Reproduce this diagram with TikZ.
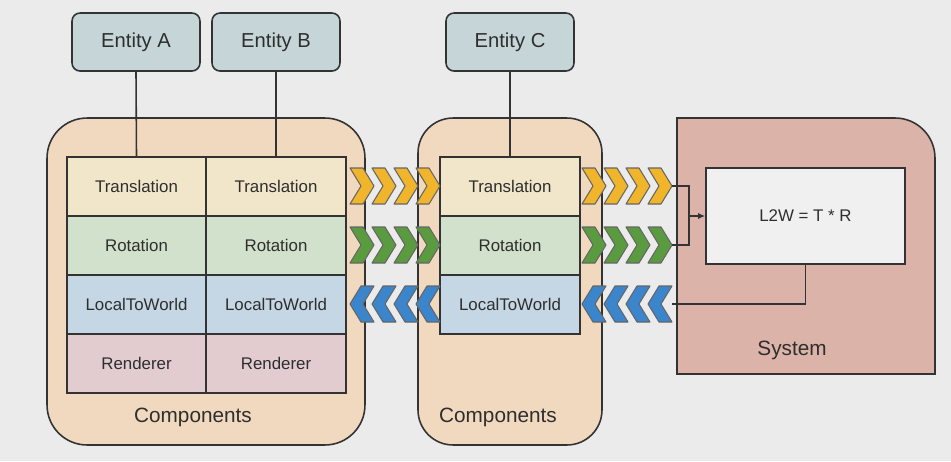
\documentclass[tikz,border=0pt]{standalone}
\usepackage{fontspec}
\setmainfont{Liberation Sans}
\usepackage{xcolor}
\usepackage{tikz}
\usetikzlibrary{arrows.meta}

\definecolor{bggray}{HTML}{EBEBEB}
\definecolor{edgegray}{HTML}{333333}
\definecolor{txtgray}{HTML}{2E2E2E}
\definecolor{entityfill}{HTML}{C6D6D8}
\definecolor{groupfill}{HTML}{F1D9C0}
\definecolor{transfill}{HTML}{F1E6C9}
\definecolor{rotfill}{HTML}{D2E1CC}
\definecolor{ltwfill}{HTML}{C5D7E5}
\definecolor{rendfill}{HTML}{E2CCCF}
\definecolor{sysfill}{HTML}{DCB3A9}
\definecolor{innerfill}{HTML}{F0F0F0}
\definecolor{chevyellow}{HTML}{F0B52A}
\definecolor{chevgreen}{HTML}{5B9B40}
\definecolor{chevblue}{HTML}{3A85CB}

\tikzset{
	>=latex,
	every node/.append style={text=txtgray},
	entity/.style = {
			draw=edgegray,
			fill=entityfill,
			line width=0.9pt,
			rounded corners=0.16cm,
			minimum width=2.56cm,
			minimum height=1.16cm,
			font=\fontsize{11.5}{13}\selectfont,
		},
	group/.style = {
			draw=edgegray,
			fill=groupfill,
			line width=0.9pt,
			minimum height=6.54cm,
		},
	cell/.style = {
			draw=edgegray,
			line width=0.9pt,
			minimum width=2.79cm,
			minimum height=1.18cm,
			inner sep=0pt,
			font=\fontsize{9.6}{11}\selectfont,
		},
	chevron/.style = {
			draw=edgegray!75,
			line width=0.6pt,
			line join=round,
		},
	link/.style = {
			draw=edgegray,
			line width=0.9pt,
		},
	caption/.style = {
			font=\fontsize{11.8}{13}\selectfont,
		},
}

\begin{document}
\begin{tikzpicture}[x=0.02cm,y=-0.02cm]
	\fill[bggray] (0,0) rectangle (951,461);
	\useasboundingbox (0,0) rectangle (951,461);

	% Component groups
	\node[group, minimum width=6.36cm, rounded corners=0.8cm] (grpAB) at (206,281.5) {};
	\node[group, minimum width=3.68cm, rounded corners=0.7cm] (grpC) at (510,281.5) {};

	% System
	\draw[draw=edgegray, fill=sysfill, line width=0.9pt]
		(677,374) -- (677,118) -- (895,118)
		arc[start angle=-90, end angle=0, radius=40] -- (935,374) -- cycle;
	\node[draw=edgegray, fill=innerfill, line width=0.9pt, minimum width=3.98cm, minimum height=1.92cm,
		font=\fontsize{9.6}{11}\selectfont] (l2w) at (805.5,216) {L2W = T * R};
	\node[caption] (sysLabel) at (792,350) {System};

	% Entities
	\node[entity] (entA) at (136,42) {Entity A};
	\node[entity] (entB) at (276,42) {Entity B};
	\node[entity] (entC) at (510,42) {Entity C};

	% Component tables
	\node[cell, fill=transfill] (transA) at (136.5,186.5) {Translation};
	\node[cell, fill=rotfill]   (rotA)   at (136.5,245.5) {Rotation};
	\node[cell, fill=ltwfill]   (ltwA)   at (136.5,304.5) {LocalToWorld};
	\node[cell, fill=rendfill]  (rendA)  at (136.5,363.5) {Renderer};

	\node[cell, fill=transfill] (transB) at (276,186.5) {Translation};
	\node[cell, fill=rotfill]   (rotB)   at (276,245.5) {Rotation};
	\node[cell, fill=ltwfill]   (ltwB)   at (276,304.5) {LocalToWorld};
	\node[cell, fill=rendfill]  (rendB)  at (276,363.5) {Renderer};

	\node[cell, fill=transfill] (transC) at (510,186.5) {Translation};
	\node[cell, fill=rotfill]   (rotC)   at (510,245.5) {Rotation};
	\node[cell, fill=ltwfill]   (ltwC)   at (510,304.5) {LocalToWorld};

	\node[caption] (compAB) at (193,417) {Components};
	\node[caption] (compC)  at (498,417) {Components};

	% Entity links
	\draw[link] (entA.south) -- (transA.north);
	\draw[link] (entB.south) -- (transB.north);
	\draw[link] (entC.south) -- (transC.north);

	% Data flow chevrons
	\foreach \s in {350,582}
		{   \foreach \i in {0,...,3}
				{   \draw[chevron, fill=chevyellow, shift={(\s+22*\i,186)}]
						(0,-18) -- (13,-18) -- (24,0) -- (13,18) -- (0,18) -- (11,0) -- cycle;
					\draw[chevron, fill=chevgreen, shift={(\s+22*\i,245)}]
						(0,-18) -- (13,-18) -- (24,0) -- (13,18) -- (0,18) -- (11,0) -- cycle;
					\draw[chevron, fill=chevblue, shift={(\s+24+22*\i,304)}, xscale=-1]
						(0,-18) -- (13,-18) -- (24,0) -- (13,18) -- (0,18) -- (11,0) -- cycle;
				}
		}

	% System links
	\coordinate (tIn) at (672,186);
	\coordinate (rIn) at (672,245);
	\coordinate (ltwOut) at (672,304);
	\coordinate (merge) at (689,216);
	\draw[link] (tIn) -| (merge) |- (rIn);
	\draw[link, -{Latex[length=4pt,width=3.5pt]}] (merge) -- (l2w.west);
	\draw[link] (l2w.south) |- (ltwOut);
\end{tikzpicture}
\end{document}
